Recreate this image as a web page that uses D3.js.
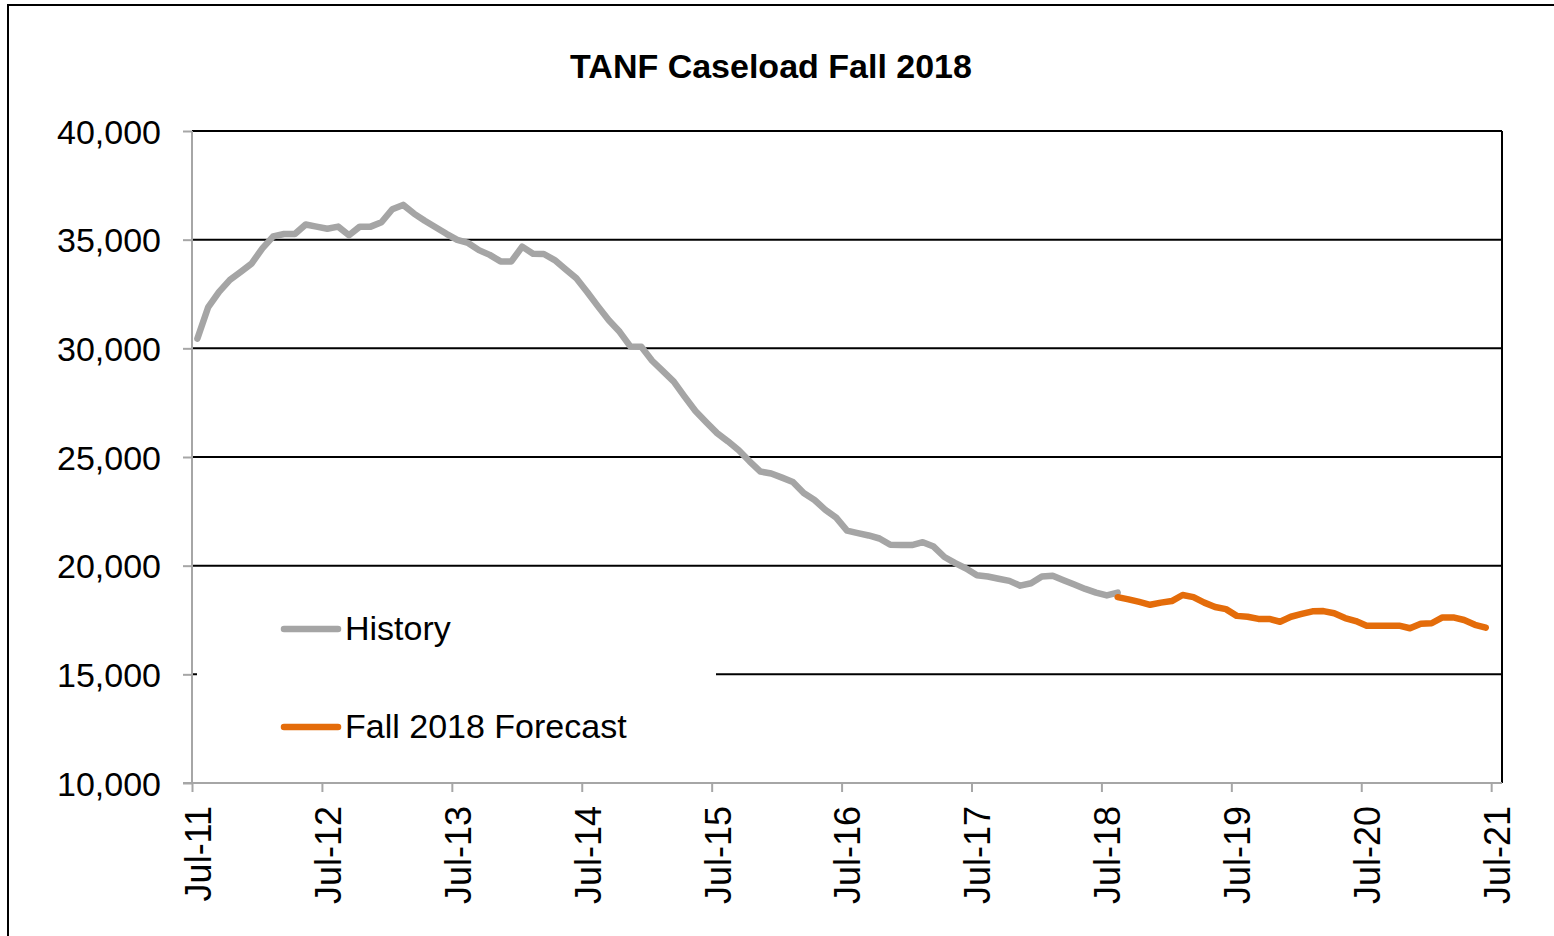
<!DOCTYPE html>
<html>
<head>
<meta charset="utf-8">
<script src="https://cdn.jsdelivr.net/npm/d3@7"></script>
<style>
  body { margin: 0; background: #fff; }
  svg text { font-family: "Liberation Sans", Arial, sans-serif; fill: #000; }
</style>
</head>
<body>
<svg id="chart" width="1554" height="936"></svg>
<script>
// monthly caseload, Jul-11 = index 0
let historyVals = [
  30450, 31900, 32600, 33150, 33520, 33900, 34600, 35150, 35260, 35260, 35700, 35600,
  35500, 35600, 35200, 35600, 35600, 35800, 36400, 36600, 36200, 35870, 35570, 35270,
  34990, 34850, 34520, 34300, 34000, 34000, 34680, 34350, 34340, 34060, 33640, 33220,
  32590, 31930, 31290, 30760, 30080, 30070, 29430, 28950, 28470, 27780, 27120, 26600,
  26100, 25720, 25310, 24800, 24330, 24240, 24050, 23850, 23340, 23020, 22570, 22210,
  21610, 21500, 21390, 21250, 20960, 20950, 20950, 21080, 20880, 20400, 20120, 19870,
  19560, 19500, 19400, 19300, 19080, 19190, 19500, 19540, 19330, 19130, 18930, 18760,
  18630, 18760
];
let forecastStart = 85; // Aug-18
let forecastVals = [
  18550, 18450, 18330, 18200, 18300, 18370, 18650, 18550, 18300, 18100, 18000, 17690,
  17650, 17550, 17550, 17420, 17650, 17780, 17900, 17910, 17810, 17590, 17450, 17240,
  17240, 17240, 17240, 17120, 17330, 17350, 17620, 17620, 17500, 17280, 17150
];
let tickLabels = ['Jul-11', 'Jul-12', 'Jul-13', 'Jul-14', 'Jul-15', 'Jul-16',
                  'Jul-17', 'Jul-18', 'Jul-19', 'Jul-20', 'Jul-21'];
let yTicks = [10000, 15000, 20000, 25000, 30000, 35000, 40000];
let seriesNames = ['History', 'Fall 2018 Forecast'];
let seriesColors = ['#a5a5a5', '#e46c0a'];

let nMonths = 121;
let plotL = 192, plotR = 1502, plotT = 131, plotB = 783;

let svg = d3.select('#chart');

// outer frame (runs off the page on the right and bottom)
svg.append('rect')
  .attr('x', 8).attr('y', 5)
  .attr('width', 1580).attr('height', 960)
  .attr('fill', 'none')
  .attr('stroke', '#000')
  .attr('stroke-width', 2);

let x = d3.scaleLinear().domain([-0.5, nMonths - 0.5]).range([plotL, plotR]);
let y = d3.scaleLinear().domain([10000, 40000]).range([plotB, plotT]);

// title
svg.append('text')
  .attr('x', 771).attr('y', 78)
  .attr('text-anchor', 'middle')
  .style('font-size', '34px')
  .style('font-weight', 'bold')
  .text('TANF Caseload Fall 2018');

// gridlines
svg.append('g')
  .selectAll('line')
  .data(yTicks.filter(d => d > 10000))
  .enter().append('line')
    .attr('x1', plotL).attr('x2', plotR)
    .attr('y1', d => y(d)).attr('y2', d => y(d))
    .attr('stroke', '#000')
    .attr('stroke-width', 2);

// right border of plot area
svg.append('line')
  .attr('x1', plotR).attr('x2', plotR)
  .attr('y1', plotT).attr('y2', plotB)
  .attr('stroke', '#000')
  .attr('stroke-width', 2);

// y axis
let leftAxis = d3.axisLeft(y)
  .tickValues(yTicks)
  .tickFormat(d3.format(','))
  .tickSize(9)
  .tickPadding(22);
let gy = svg.append('g')
  .attr('transform', 'translate(' + plotL + ',0)')
  .call(leftAxis);
gy.select('.domain').remove();
gy.selectAll('.tick line').attr('stroke', '#a6a6a6').attr('stroke-width', 2);
gy.selectAll('.tick text')
  .style('font-size', '34px')
  .attr('dy', '0.36em');
gy.append('line')
  .attr('x1', 0).attr('x2', 0)
  .attr('y1', plotT).attr('y2', plotB)
  .attr('stroke', '#a6a6a6')
  .attr('stroke-width', 2);

// x axis: ticks on month boundaries every 12 months, labels centred on the month
let tickIdx = tickLabels.map((d, i) => i * 12);
let bottomAxis = d3.axisBottom(x)
  .tickValues(tickIdx.map(d => d - 0.5))
  .tickFormat((d, i) => tickLabels[i])
  .tickSize(9);
let gx = svg.append('g')
  .attr('transform', 'translate(0,' + plotB + ')')
  .call(bottomAxis);
gx.select('.domain').remove();
gx.selectAll('.tick line').attr('stroke', '#a6a6a6').attr('stroke-width', 2);
let half = (x(1) - x(0)) / 2;
gx.selectAll('.tick text')
  .style('font-size', '36px')
  .attr('text-anchor', 'end')
  .attr('y', 0)
  .attr('dy', '0.36em')
  .attr('transform', 'translate(' + half + ',23) rotate(-90)');
gx.append('line')
  .attr('x1', plotL - 9).attr('x2', plotR)
  .attr('y1', 0).attr('y2', 0)
  .attr('stroke', '#a6a6a6')
  .attr('stroke-width', 2);

// legend box (white, hides part of the 15,000 gridline)
svg.append('rect')
  .attr('x', 197).attr('y', 585)
  .attr('width', 519).attr('height', 190)
  .attr('fill', '#fff');

let line = d3.line()
  .x(d => x(d[0]))
  .y(d => y(d[1]));

let series = [
  historyVals.map((v, i) => [i, v]),
  forecastVals.map((v, i) => [forecastStart + i, v])
];

svg.append('g')
  .selectAll('path')
  .data(series)
  .enter().append('path')
    .attr('d', line)
    .attr('fill', 'none')
    .attr('stroke', (d, i) => seriesColors[i])
    .attr('stroke-width', 6.5)
    .attr('stroke-linejoin', 'round')
    .attr('stroke-linecap', 'round');

// legend
let legend = svg.append('g')
  .selectAll('g')
  .data(seriesNames)
  .enter().append('g')
    .attr('transform', (d, i) => 'translate(0,' + (629 + i * 98) + ')');
legend.append('line')
  .attr('x1', 284).attr('x2', 338)
  .attr('y1', 0).attr('y2', 0)
  .attr('stroke', (d, i) => seriesColors[i])
  .attr('stroke-width', 6.5)
  .attr('stroke-linecap', 'round');
legend.append('text')
  .attr('x', 345).attr('y', 11)
  .style('font-size', '34px')
  .text(d => d);
</script>
</body>
</html>
